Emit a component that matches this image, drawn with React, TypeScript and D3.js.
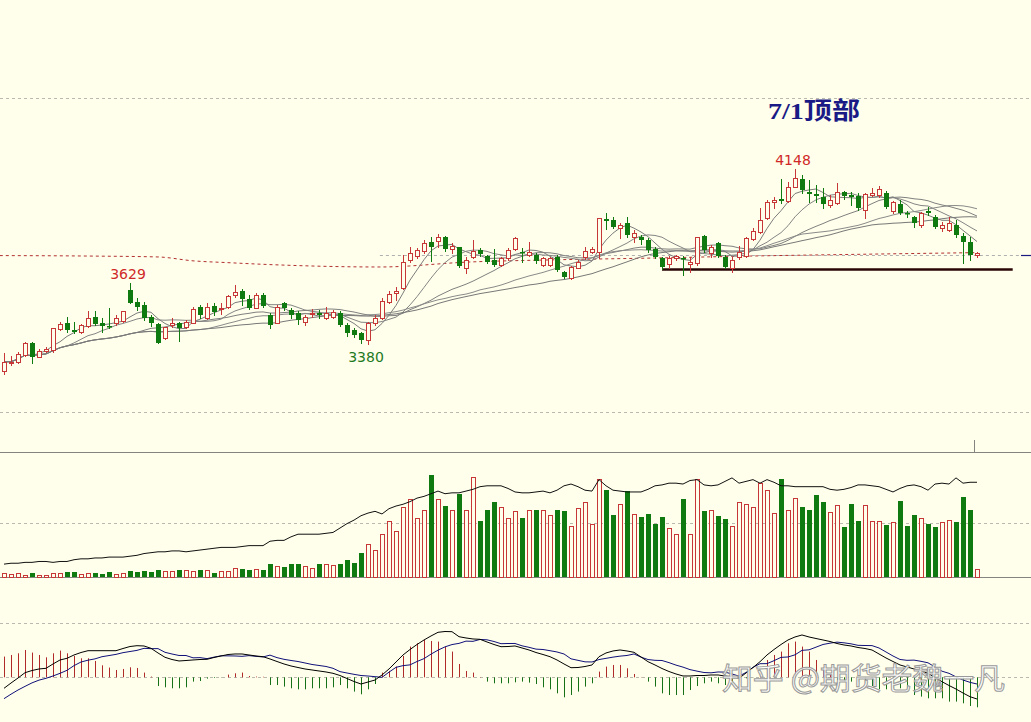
import React from 'react';
import * as d3 from 'd3';

const W = 1031;
const H = 722;

// ---------- data ----------
const opens = [3263,3299,3302,3332,3383,3324,3351,3354,3446,3474, 3442,3434,3459,3500,3474,3459,3471,3481,3617,3566, 3551,3500,3468,3406,3464,3472,3455,3474,3542,3493, 3547,3536,3544,3595,3614,3576,3539,3595,3507,3474, 3559,3529,3515,3478,3513,3516,3493,3499,3515,3464, 3442,3430,3398,3474,3496,3566,3603,3624,3749,3766, 3789,3826,3832,3851,3796,3804,3712,3761,3793,3766, 3749,3727,3756,3797,3785,3771,3771,3727,3727,3761, 3697,3668,3715,3762,3784,3784,3927,3924,3888,3910, 3851,3848,3837,3796,3759,3731,3759,3759,3731,3737, 3854,3781,3822,3763,3712,3760,3768,3840,3872,3932, 4005,4015,4009,4070,4103,4048,4038,4026,3990,3998, 4048,4034,4030,3968,4034,4034,4044,3965,3994,3956, 3939,3902,3965,3939,3888,3880,3902,3854,3829,3771];
const highs = [3341,3327,3346,3390,3389,3358,3368,3450,3478,3500, 3478,3468,3525,3525,3493,3537,3507,3527,3646,3581, 3566,3507,3474,3456,3493,3478,3485,3541,3551,3559, 3559,3561,3595,3639,3620,3595,3603,3603,3515,3551, 3566,3537,3526,3507,3532,3529,3544,3529,3526,3471, 3449,3434,3478,3507,3581,3614,3630,3771,3807,3800, 3837,3851,3862,3853,3822,3807,3761,3837,3800,3771, 3796,3763,3800,3851,3800,3829,3781,3763,3761,3771, 3702,3722,3749,3807,3807,3935,3956,3939,3910,3936, 3880,3858,3844,3807,3763,3766,3771,3766,3763,3851, 3858,3815,3829,3771,3763,3810,3848,3888,3979,4012, 4026,4103,4092,4148,4122,4100,4078,4063,4034,4088, 4053,4048,4044,4044,4063,4073,4053,4009,4012,3965, 3942,3961,3983,3946,3917,3939,3924,3866,3848,3785];
const lows = [3248,3288,3295,3327,3297,3322,3346,3346,3442,3434, 3427,3427,3456,3464,3434,3449,3464,3478,3559,3529, 3485,3459,3383,3401,3456,3395,3449,3471,3494,3488, 3507,3512,3537,3588,3551,3532,3537,3544,3449,3471, 3529,3493,3468,3464,3497,3493,3488,3493,3459,3415, 3412,3386,3380,3464,3488,3559,3573,3622,3741,3756, 3778,3746,3807,3789,3778,3719,3693,3756,3766,3734, 3722,3724,3749,3793,3741,3766,3737,3722,3722,3702, 3671,3664,3712,3753,3778,3756,3883,3888,3844,3851, 3829,3819,3785,3756,3708,3712,3749,3683,3697,3727, 3785,3763,3763,3712,3697,3753,3764,3837,3866,3929, 3976,3998,4005,4068,4044,4005,4005,3976,3983,3994, 4015,3990,3968,3932,4030,4024,3976,3954,3951,3936, 3892,3895,3946,3888,3877,3877,3851,3737,3749,3763];
const closes = [3302,3303,3336,3383,3324,3351,3357,3449,3468,3442, 3434,3464,3493,3468,3459,3456,3493,3525,3561,3544, 3494,3472,3385,3455,3474,3450,3478,3534,3507,3544, 3522,3540,3591,3610,3576,3537,3595,3547,3464,3544, 3537,3507,3485,3500,3516,3507,3515,3521,3464,3430, 3420,3398,3471,3493,3569,3600,3614,3741,3778,3793, 3825,3807,3848,3796,3810,3724,3749,3789,3774,3741, 3727,3756,3793,3847,3781,3785,3746,3756,3756,3705, 3675,3719,3741,3788,3797,3932,3921,3895,3902,3858, 3866,3837,3793,3763,3719,3756,3766,3752,3741,3848, 3793,3807,3766,3717,3749,3785,3844,3877,3924,4005, 4010,4009,4070,4107,4056,4038,4030,3994,4012,4048, 4030,4026,3976,4038,4044,4059,3983,4005,3956,3951, 3912,3954,3954,3892,3902,3912,3858,3829,3771,3778];
const volumes = [7,5,7,4,7,4,4,7,7,9, 9,6,7,7,5,9,5,7,11,9, 11,9,13,11,11,13,13,11,13,13, 7,11,11,16,14,13,14,13,24,20, 18,25,24,21,16,25,25,22,24,31, 26,44,61,50,80,104,85,129,144,109, 124,188,144,131,124,154,125,186,104,125, 138,129,109,122,110,125,125,125,115,124, 122,94,127,138,99,181,161,115,135,159, 117,111,117,98,111,90,80,144,80,181, 122,125,113,107,94,138,136,129,175,162, 118,181,124,146,129,125,152,138,120,133, 92,136,104,133,104,104,96,101,141,94, 115,109,98,93,101,106,101,148,124,14];
const openInterest = [10.1,10.2,10.2,10.3,10.3,10.4,10.4,10.3,10.4,10.4, 10.6,10.7,10.7,10.8,10.8,10.9,10.9,10.9,11.0,11.1, 11.3,11.4,11.5,11.5,11.6,11.6,11.5,11.6,11.7,11.8, 11.9,12.0,12.0,12.0,12.1,12.2,12.2,12.2,12.7,12.8, 12.8,13.2,13.5,13.5,13.5,13.5,13.6,13.7,14.2,14.7, 15.1,15.6,15.9,16.1,15.8,16.4,16.7,16.9,17.2,17.6, 17.8,18.1,18.4,18.1,18.2,18.2,18.4,18.6,18.9,19.0, 19.0,19.0,18.7,18.3,18.2,18.2,18.3,18.4,18.2,18.5, 19.0,19.2,18.9,18.5,18.4,19.7,19.0,18.5,18.4,18.3, 18.3,18.3,18.6,19.0,19.1,19.3,19.3,19.2,19.6,19.7, 19.1,19.0,19.1,19.5,19.9,19.3,19.5,19.7,19.3,19.7, 19.4,19.0,19.0,18.9,18.9,18.9,18.9,18.9,18.6,18.5, 18.6,18.8,19.1,19.1,19.0,18.9,18.6,18.3,18.7,19.0, 19.1,18.9,18.5,19.2,19.3,19.2,19.9,19.3,19.4,19.4];
const difValues = [-27.5,-14.3,-1.8,11.5,17,20.8,22.5,33.3,43.3,47.5, 55.8,62,66.5,66.5,66.5,66.5,66.5,72,77,79, 78.3,72.5,60.8,50,44.5,40.8,42,43.3,44.5,45, 49.5,53.3,57,58.3,58.3,55.8,53.3,51.5,45.8,39.5, 33.3,28.3,24.5,20.8,18.3,15.8,13.3,10,4.5,-3, -10.5,-16.8,-11.8,-6.8,5.8,20.8,38.3,55.8,69.5,82, 93.3,103.3,112.5,114.5,114,101.5,98.3,95.8,95,88.3, 82,76.5,77,78.3,73.3,68.3,62,57,51.5,43.3, 33.3,24,24.5,27,30.8,51.5,60.8,65.8,68.3,65.8, 62.5,50.8,39,30.8,22,14.5,8.3,3.3,3.3,4.5, 4.5,5.8,5.8,3.3,0.8,-2.5,10.8,24.5,39,55.8, 69.5,82,93.3,100.8,105.8,100.8,97,93.3,89.5,84.5, 80.8,78.3,74.5,72,68.3,58.3,48.3,39.5,30.8,25.8, 20.8,15.8,10,-0.5,-11,-20.5,-29.3,-39.3,-48.5,-54.3];
const macdHist = [51.8,55.8,60,68.3,61.8,55.8,50,60,66.8,60, 53.3,47.5,47.5,40.8,30,24.3,18.3,20.8,25,23.3, 11.8,1.8,-21.8,-25,-27.5,-27.5,-25,-10.8,-9.3,-3.3, -1.8,-0.8,6.8,10,11.8,3.3,1.8,1.3,-19.3,-19.3, -23.3,-27.5,-30,-30,-27.5,-27.5,-27.5,-25,-19.3,-27.5, -35.8,-42.5,-30,-16.8,11.8,15.8,26.8,53.3,76.8,85, 93.3,90.8,89.3,76.8,64.3,33.3,15.8,11.8,0.8,-10.8, -15,-15,-15,-12.5,-10.8,-13.3,-16.8,-25,-30,-40, -50,-44.3,-35.8,-23.3,-15,14.3,26.8,30.8,30.8,22.5, 8.3,0.8,-10.8,-23.3,-40,-44.3,-44.3,-44.3,-31.8,-21.8, -15,-10.8,-15,-19.3,-15,-10.8,-2.5,-0.5,10,43.3, 55.8,64.3,85,89.3,76.8,64.3,43.3,22.5,8.3,-6.8, -10.8,-10.8,-10.8,-15,-21.8,-30,-30,-27.5,-27.5,-33.3, -44.3,-48.3,-52.5,-52.5,-52.5,-60.8,-60.8,-65,-71.8,-75];
const maPeriods = [5, 10, 20, 30, 40];
const longMaPoints: [number, number][] = [[-0.6,3768],[12,3766],[22,3762],[27,3745],[32,3737],[38.4,3728],[53.7,3718],[66.6,3740],[78,3749],[92.3,3757],[106.6,3766],[120.9,3773],[139,3781]];
const priceGridValues = [4460, 3082];
const volumeGridValues = [100];
const macdGridValues = [135, 0];
const supportLevel = 3707;
const supportRange = [94, 144.1];
const lastPriceLevel = 3771;
const lastPriceLineStart = 53.7;
const peakLabels = [
  { idx: 18, text: '3629', kind: 'high' },
  { idx: 113, text: '4148', kind: 'high' },
  { idx: 52, text: '3380', kind: 'low' },
];
const annotationText = '7/1顶部';
const watermarkText = '知乎 @期货老魏一凡';

// ---------- styles ----------
const BG = '#FFFFEB';
const UP = '#C83737';
const DOWN = '#0F7A0F';
const GRID = '#B9B9B0';
const SEP = '#858580';
const MA_COLORS = ['#7c7c7c', '#858585', '#7f7f7f', '#8a8a8a', '#787878'];

export default function App() {
  const n = closes.length;
  const idx = d3.range(n);
  const x = d3.scaleLinear().domain([0, n - 1]).range([4, 977]);
  const yP = d3.scaleLinear().domain([3380, 4148]).range([344, 169]);
  const yV = d3.scaleLinear().domain([0, 100]).range([577, 523]);
  const yOI = d3.scaleLinear().domain([10, 20]).range([565, 477]);
  const yM = d3.scaleLinear().domain([0, 135]).range([677.3, 623.3]);

  const mas = maPeriods.map((p) =>
    idx.map((i) => d3.mean(closes.slice(Math.max(0, i - p + 1), i + 1)) as number)
  );
  const maLine = d3.line<number>().x((_, i) => x(i)).y((d) => yP(d)).curve(d3.curveLinear);
  const longLine = d3.line<[number, number]>().x((d) => x(d[0])).y((d) => yP(d[1])).curve(d3.curveMonotoneX);
  const oiLine = d3.line<number>().x((_, i) => x(i)).y((d) => yOI(d));
  const dea = idx.map((i) => difValues[i] - macdHist[i] / 2);
  const mLine = d3.line<number>().x((_, i) => x(i)).y((d) => yM(d));

  const px = (i: number) => Math.round(x(i));
  const crisp = (v: number) => Math.round(v) + 0.5;

  return (
    <div style={{ width: W, height: H, background: BG }}>
      <style>{`body{margin:0;background:${BG};}`}</style>
      <svg width={W} height={H} style={{ display: 'block' }}>
        <rect x={0} y={0} width={W} height={H} fill={BG} />

        {/* grid lines */}
        {priceGridValues.map((v) => (
          <line key={'pg' + v} x1={0} x2={W} y1={crisp(yP(v))} y2={crisp(yP(v))} stroke={GRID} strokeDasharray="3,3" />
        ))}
        {volumeGridValues.map((v) => (
          <line key={'vg' + v} x1={0} x2={W} y1={crisp(yV(v))} y2={crisp(yV(v))} stroke={GRID} strokeDasharray="3,3" />
        ))}
        {macdGridValues.map((v) => (
          <line key={'mg' + v} x1={0} x2={W} y1={crisp(yM(v))} y2={crisp(yM(v))} stroke={GRID} strokeDasharray="3,3" />
        ))}
        <line x1={0} x2={W} y1={452.5} y2={452.5} stroke={SEP} />
        <line x1={0} x2={W} y1={crisp(yV(0))} y2={crisp(yV(0))} stroke={SEP} />
        <line x1={974.5} x2={974.5} y1={440} y2={452} stroke={SEP} />

        {/* last price dashed line */}
        <line x1={x(lastPriceLineStart)} x2={1020} y1={crisp(yP(lastPriceLevel))} y2={crisp(yP(lastPriceLevel))} stroke="#b0b0b0" strokeDasharray="3,3" />
        <line x1={1021} x2={W} y1={crisp(yP(lastPriceLevel))} y2={crisp(yP(lastPriceLevel))} stroke="#1a1a80" strokeWidth={1.2} />

        {/* long MA (red dashed) */}
        <path d={longLine(longMaPoints) || ''} fill="none" stroke="#B23030" strokeDasharray="3,3" strokeWidth={1} />

        {/* moving averages */}
        {mas.map((m, k) => (
          <path key={'ma' + k} d={maLine(m) || ''} fill="none" stroke={MA_COLORS[k]} strokeWidth={1} />
        ))}

        {/* support line */}
        <line x1={x(supportRange[0])} x2={x(supportRange[1])} y1={yP(supportLevel)} y2={yP(supportLevel)} stroke="#2a0505" strokeWidth={2.6} />

        {/* candles */}
        {idx.map((i) => {
          const o = opens[i], c = closes[i];
          const hi = Math.max(highs[i], o, c), lo = Math.min(lows[i], o, c);
          const up = c >= o;
          const cx = px(i);
          const yTop = Math.round(yP(Math.max(o, c)));
          const yBot = Math.round(yP(Math.min(o, c)));
          const col = up ? UP : DOWN;
          return (
            <g key={'c' + i}>
              <line x1={cx + 0.5} x2={cx + 0.5} y1={Math.round(yP(hi))} y2={Math.round(yP(lo)) + 1} stroke={col} />
              {up ? (
                <rect x={cx - 1.5} y={yTop + 0.5} width={4} height={Math.max(yBot - yTop, 1)} fill={BG} stroke={col} />
              ) : (
                <rect x={cx - 2} y={yTop} width={5} height={Math.max(yBot - yTop, 1.5)} fill={col} />
              )}
            </g>
          );
        })}

        {/* peak labels */}
        {peakLabels.map((l) => {
          const isHigh = l.kind === 'high';
          const yy = isHigh ? yP(highs[l.idx]) - 4.5 : yP(lows[l.idx]) + 17.5;
          return (
            <text key={l.text} x={x(l.idx) - 2} y={yy} textAnchor="middle" fontFamily="'DejaVu Sans', sans-serif" fontSize={14} fill={isHigh ? '#D02828' : '#1E7A1E'}>
              {l.text}
            </text>
          );
        })}

        {/* annotation */}
        <text x={768} y={119} fontFamily="'Liberation Serif', 'Noto Sans CJK SC', serif" fontWeight="bold" fontSize={24} fill="#1a1a86" textLength={92} lengthAdjust="spacingAndGlyphs">
          {annotationText}
        </text>

        {/* volume bars */}
        {idx.map((i) => {
          const up = closes[i] >= opens[i];
          const cx = px(i);
          const yt = Math.round(yV(volumes[i]));
          const yb = Math.round(yV(0));
          return up ? (
            <rect key={'v' + i} x={cx - 1.5} y={yt + 0.5} width={4} height={yb - yt} fill={BG} stroke={UP} />
          ) : (
            <rect key={'v' + i} x={cx - 2} y={yt} width={5} height={yb - yt} fill={DOWN} />
          );
        })}
        <path d={oiLine(openInterest) || ''} fill="none" stroke="#111" strokeWidth={1} />

        {/* MACD */}
        {idx.map((i) => {
          const h = macdHist[i];
          const cx = px(i) + 0.5;
          return (
            <line key={'h' + i} x1={cx} x2={cx} y1={yM(0)} y2={yM(h)} stroke={h >= 0 ? '#B02A2A' : '#167016'} strokeWidth={1} />
          );
        })}
        <path d={mLine(dea) || ''} fill="none" stroke="#10107a" strokeWidth={1} />
        <path d={mLine(difValues) || ''} fill="none" stroke="#000" strokeWidth={1} />

        {/* watermark */}
        <text x={722} y={689} fontFamily="'Noto Sans CJK SC', sans-serif" fontSize={30} fill="#ffffff" fillOpacity={0.9} stroke="#9a9a9a" strokeWidth={1} textLength={283} lengthAdjust="spacingAndGlyphs">
          {watermarkText}
        </text>
      </svg>
    </div>
  );
}
